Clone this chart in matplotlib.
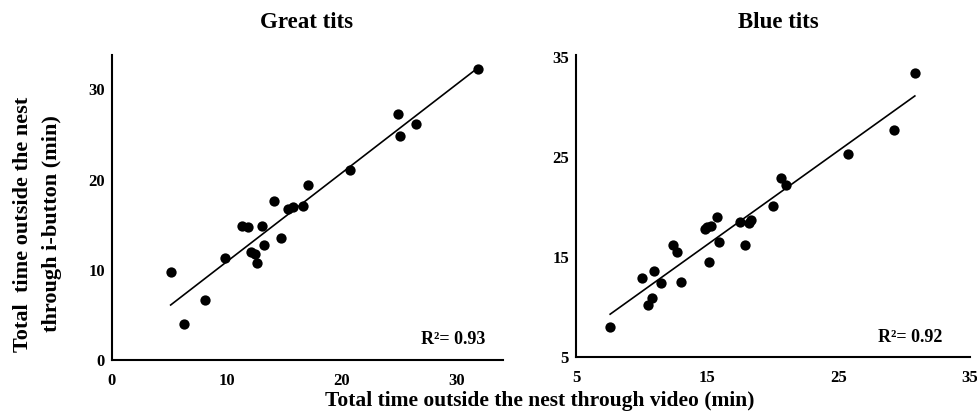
import numpy as np
import matplotlib
matplotlib.use("Agg")
import matplotlib.pyplot as plt

plt.rcParams['font.family'] = ['Liberation Serif', 'DejaVu Serif']
plt.rcParams['font.weight'] = 'bold'

# Great tits: video (x) vs i-button (y), minutes
great_x = [5.1, 6.3, 8.1, 9.8, 11.3, 11.8, 12.1, 12.4, 12.6, 13.0, 13.2,
           14.1, 14.7, 15.3, 15.7, 16.6, 17.0, 20.7, 24.9, 25.0, 26.4, 31.8]
great_y = [9.7, 4.0, 6.6, 11.3, 14.9, 14.7, 12.0, 11.7, 10.8, 14.9, 12.7,
           17.6, 13.5, 16.7, 16.9, 17.1, 19.4, 21.1, 27.3, 24.8, 26.1, 32.3]

# Blue tits
blue_x = [7.6, 10.05, 10.5, 10.8, 10.96, 11.5, 12.4, 12.7, 13.0, 14.8, 15.0,
          15.15, 15.3, 15.7, 15.9, 17.5, 17.9, 18.2, 18.3, 20.0, 20.6, 21.0,
          25.7, 29.2, 30.8]
blue_y = [8.0, 12.9, 10.2, 10.9, 13.6, 12.4, 16.2, 15.5, 12.5, 17.8, 18.0,
          14.5, 18.1, 19.0, 16.5, 18.5, 16.2, 18.4, 18.7, 20.1, 22.9, 22.2,
          25.3, 27.7, 33.4]

titles = ["Great tits", "Blue tits"]
r2_labels = ["R²= 0.93", "R²= 0.92"]
great_ticks = [0, 10, 20, 30]
blue_ticks = [5, 15, 25, 35]

W, H = 977, 415
fig = plt.figure(figsize=(W / 100, H / 100), dpi=100)


def make_axes(l, b, r, t):
    return fig.add_axes([l / W, 1 - b / H, (r - l) / W, (b - t) / H])


ax1 = make_axes(112, 360, 503, 55)
ax2 = make_axes(576, 357, 970, 55)

panels = [
    (ax1, great_x, great_y, (0, 34), (0, 33.8), great_ticks, 0.954),
    (ax2, blue_x, blue_y, (5, 35), (5, 35.2), blue_ticks, 0.931),
]

for i, (ax, xs, ys, xl, yl, ticks, rx) in enumerate(panels):
    xs = np.array(xs)
    ys = np.array(ys)
    ax.scatter(xs, ys, s=55, color="black", zorder=3, linewidths=0)
    # linear trendline from the data
    k, b = np.polyfit(xs, ys, 1)
    lx = np.array([xs.min(), xs.max()])
    ax.plot(lx, k * lx + b, color="black", lw=1.2)
    ax.set_xlim(*xl)
    ax.set_ylim(*yl)
    ax.set_xticks(ticks)
    ax.set_yticks(ticks)
    ax.tick_params(length=0, labelsize=12)
    ax.tick_params(axis="y", pad=5)
    ax.tick_params(axis="x", pad=9)
    for s in ["top", "right"]:
        ax.spines[s].set_visible(False)
    for s in ["left", "bottom"]:
        ax.spines[s].set_linewidth(1.5)
    ax.text(rx, 0.066, r2_labels[i], transform=ax.transAxes, ha="right",
            va="center", fontsize=13, fontweight="bold")

fig.text(306 / W, 1 - 22 / H, titles[0], ha="center", va="center",
         fontsize=16.5, fontweight="bold")
fig.text(778 / W, 1 - 22 / H, titles[1], ha="center", va="center",
         fontsize=16.5, fontweight="bold")
fig.text(540 / W, 1 - 401 / H, "Total time outside the nest through video (min)",
         ha="center", va="center", fontsize=15.5, fontweight="bold")
fig.text(38 / W, 1 - 224 / H, "Total  time outside the nest\nthrough i-button (min)",
         ha="center", va="center", rotation=90, fontsize=16,
         fontweight="bold", linespacing=1.6)

fig.savefig("out.png", dpi=100)
